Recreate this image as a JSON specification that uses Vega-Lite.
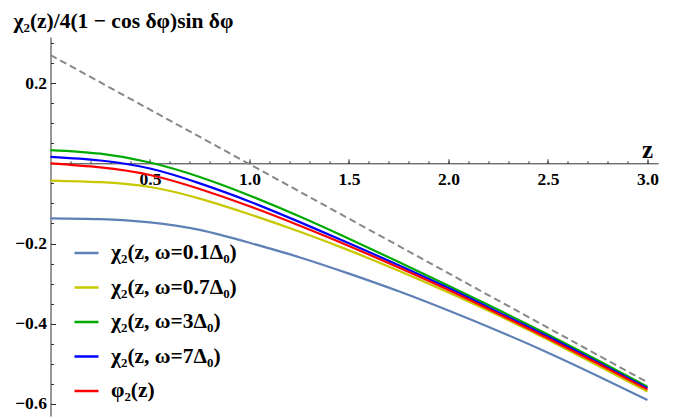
{
  "$schema": "https://vega.github.io/schema/vega-lite/v6.json",
  "width": 607.5,
  "height": 379,
  "autosize": {"type": "none"},
  "padding": {"left": 50.5, "top": 37, "right": 15, "bottom": 2},
  "background": "white",
  "config": {
    "view": {"stroke": null},
    "font": "Liberation Serif, Times New Roman, serif",
    "axis": {
      "grid": false,
      "domainColor": "#333333",
      "domainWidth": 1,
      "tickColor": "#333333",
      "labelFont": "Liberation Serif, Times New Roman, serif",
      "labelFontWeight": "bold",
      "labelFontSize": 17.5,
      "labelColor": "#000000",
      "labelOverlap": false,
      "labelFlush": false,
      "titleFont": "Liberation Serif, Times New Roman, serif",
      "titleFontWeight": "bold",
      "titleColor": "#000000"
    },
    "legend": {
      "labelFont": "Liberation Serif, Times New Roman, serif"
    }
  },
  "datasets": {
    "dashed": [
      {"z": 0, "v": 0.27},
      {"z": 3, "v": -0.546}
    ],
    "curves": [
      {"s": "χ₂(z, ω=0.1Δ₀)", "z": 0, "v": -0.137},
      {"s": "χ₂(z, ω=0.1Δ₀)", "z": 0.25, "v": -0.139},
      {"s": "χ₂(z, ω=0.1Δ₀)", "z": 0.5, "v": -0.147},
      {"s": "χ₂(z, ω=0.1Δ₀)", "z": 0.75, "v": -0.166},
      {"s": "χ₂(z, ω=0.1Δ₀)", "z": 1.0, "v": -0.198},
      {"s": "χ₂(z, ω=0.1Δ₀)", "z": 1.25, "v": -0.234},
      {"s": "χ₂(z, ω=0.1Δ₀)", "z": 1.5, "v": -0.275},
      {"s": "χ₂(z, ω=0.1Δ₀)", "z": 1.75, "v": -0.319},
      {"s": "χ₂(z, ω=0.1Δ₀)", "z": 2.0, "v": -0.367},
      {"s": "χ₂(z, ω=0.1Δ₀)", "z": 2.25, "v": -0.418},
      {"s": "χ₂(z, ω=0.1Δ₀)", "z": 2.5, "v": -0.472},
      {"s": "χ₂(z, ω=0.1Δ₀)", "z": 2.75, "v": -0.530},
      {"s": "χ₂(z, ω=0.1Δ₀)", "z": 3.0, "v": -0.590},
      {"s": "χ₂(z, ω=0.7Δ₀)", "z": 0, "v": -0.043},
      {"s": "χ₂(z, ω=0.7Δ₀)", "z": 0.25, "v": -0.047},
      {"s": "χ₂(z, ω=0.7Δ₀)", "z": 0.5, "v": -0.059},
      {"s": "χ₂(z, ω=0.7Δ₀)", "z": 0.75, "v": -0.088},
      {"s": "χ₂(z, ω=0.7Δ₀)", "z": 1.0, "v": -0.127},
      {"s": "χ₂(z, ω=0.7Δ₀)", "z": 1.25, "v": -0.170},
      {"s": "χ₂(z, ω=0.7Δ₀)", "z": 1.5, "v": -0.217},
      {"s": "χ₂(z, ω=0.7Δ₀)", "z": 1.75, "v": -0.268},
      {"s": "χ₂(z, ω=0.7Δ₀)", "z": 2.0, "v": -0.322},
      {"s": "χ₂(z, ω=0.7Δ₀)", "z": 2.25, "v": -0.379},
      {"s": "χ₂(z, ω=0.7Δ₀)", "z": 2.5, "v": -0.440},
      {"s": "χ₂(z, ω=0.7Δ₀)", "z": 2.75, "v": -0.504},
      {"s": "χ₂(z, ω=0.7Δ₀)", "z": 3.0, "v": -0.569},
      {"s": "χ₂(z, ω=3Δ₀)", "z": 0, "v": 0.033},
      {"s": "χ₂(z, ω=3Δ₀)", "z": 0.25, "v": 0.024},
      {"s": "χ₂(z, ω=3Δ₀)", "z": 0.5, "v": 0.002},
      {"s": "χ₂(z, ω=3Δ₀)", "z": 0.75, "v": -0.034},
      {"s": "χ₂(z, ω=3Δ₀)", "z": 1.0, "v": -0.080},
      {"s": "χ₂(z, ω=3Δ₀)", "z": 1.25, "v": -0.132},
      {"s": "χ₂(z, ω=3Δ₀)", "z": 1.5, "v": -0.188},
      {"s": "χ₂(z, ω=3Δ₀)", "z": 1.75, "v": -0.246},
      {"s": "χ₂(z, ω=3Δ₀)", "z": 2.0, "v": -0.305},
      {"s": "χ₂(z, ω=3Δ₀)", "z": 2.25, "v": -0.365},
      {"s": "χ₂(z, ω=3Δ₀)", "z": 2.5, "v": -0.427},
      {"s": "χ₂(z, ω=3Δ₀)", "z": 2.75, "v": -0.491},
      {"s": "χ₂(z, ω=3Δ₀)", "z": 3.0, "v": -0.557},
      {"s": "χ₂(z, ω=7Δ₀)", "z": 0, "v": 0.016},
      {"s": "χ₂(z, ω=7Δ₀)", "z": 0.25, "v": 0.007},
      {"s": "χ₂(z, ω=7Δ₀)", "z": 0.5, "v": -0.013},
      {"s": "χ₂(z, ω=7Δ₀)", "z": 0.75, "v": -0.050},
      {"s": "χ₂(z, ω=7Δ₀)", "z": 1.0, "v": -0.095},
      {"s": "χ₂(z, ω=7Δ₀)", "z": 1.25, "v": -0.146},
      {"s": "χ₂(z, ω=7Δ₀)", "z": 1.5, "v": -0.199},
      {"s": "χ₂(z, ω=7Δ₀)", "z": 1.75, "v": -0.254},
      {"s": "χ₂(z, ω=7Δ₀)", "z": 2.0, "v": -0.311},
      {"s": "χ₂(z, ω=7Δ₀)", "z": 2.25, "v": -0.371},
      {"s": "χ₂(z, ω=7Δ₀)", "z": 2.5, "v": -0.432},
      {"s": "χ₂(z, ω=7Δ₀)", "z": 2.75, "v": -0.496},
      {"s": "χ₂(z, ω=7Δ₀)", "z": 3.0, "v": -0.561},
      {"s": "φ₂(z)", "z": 0, "v": 0.0},
      {"s": "φ₂(z)", "z": 0.25, "v": -0.010},
      {"s": "φ₂(z)", "z": 0.5, "v": -0.029},
      {"s": "φ₂(z)", "z": 0.75, "v": -0.064},
      {"s": "φ₂(z)", "z": 1.0, "v": -0.107},
      {"s": "φ₂(z)", "z": 1.25, "v": -0.155},
      {"s": "φ₂(z)", "z": 1.5, "v": -0.206},
      {"s": "φ₂(z)", "z": 1.75, "v": -0.260},
      {"s": "φ₂(z)", "z": 2.0, "v": -0.316},
      {"s": "φ₂(z)", "z": 2.25, "v": -0.375},
      {"s": "φ₂(z)", "z": 2.5, "v": -0.436},
      {"s": "φ₂(z)", "z": 2.75, "v": -0.499},
      {"s": "φ₂(z)", "z": 3.0, "v": -0.564}
    ]
  },
  "layer": [
    {
      "data": {"name": "dashed"},
      "mark": {"type": "line", "color": "#888888", "strokeWidth": 2, "strokeDash": [7, 4]},
      "encoding": {
        "x": {
          "field": "z", "type": "quantitative",
          "scale": {"domain": [0, 3.053], "nice": false, "zero": false},
          "axis": {
            "orient": "bottom", "offset": -252.7,
            "values": [0.1,0.2,0.3,0.4,0.5,0.6,0.7,0.8,0.9,1.0,1.1,1.2,1.3,1.4,1.5,1.6,1.7,1.8,1.9,2.0,2.1,2.2,2.3,2.4,2.5,2.6,2.7,2.8,2.9,3.0],
            "tickSize": -2.5, "labels": false, "domain": false, "title": null
          }
        },
        "y": {
          "field": "v", "type": "quantitative",
          "scale": {"domain": [-0.63, 0.315], "nice": false, "zero": false},
          "axis": {
            "orient": "left",
            "values": [-0.6,-0.55,-0.5,-0.45,-0.4,-0.35,-0.3,-0.25,-0.2,-0.15,-0.1,-0.05,0.05,0.1,0.15,0.2,0.25,0.3],
            "tickSize": -3, "labels": false, "domain": false, "title": null
          }
        }
      }
    },
    {
      "data": {"name": "curves"},
      "mark": {"type": "line", "strokeWidth": 2.2, "interpolate": "natural"},
      "encoding": {
        "x": {
          "field": "z", "type": "quantitative",
          "scale": {"domain": [0, 3.053], "nice": false, "zero": false},
          "axis": {
            "orient": "bottom", "offset": -252.7,
            "values": [0.5, 1.0, 1.5, 2.0, 2.5, 3.0], "format": ".1f",
            "tickSize": -4.5, "labelPadding": 11.5, "labelBaseline": "top",
            "title": "z", "titleFontSize": 25, "titleAngle": 0,
            "titleX": 596.5, "titleY": -6.3, "titleAlign": "center", "titleBaseline": "alphabetic"
          }
        },
        "y": {
          "field": "v", "type": "quantitative",
          "scale": {"domain": [-0.63, 0.315], "nice": false, "zero": false},
          "axis": {
            "orient": "left",
            "values": [-0.6, -0.4, -0.2, 0.2], "format": ".1f",
            "tickSize": -5, "labelPadding": 9,
            "title": "χ₂(z)/4(1 − cos δφ)sin δφ", "titleFontSize": 21.5, "titleAngle": 0,
            "titleX": -37.5, "titleY": -10, "titleAlign": "left", "titleBaseline": "alphabetic"
          }
        },
        "color": {
          "field": "s", "type": "nominal",
          "scale": {
            "domain": ["χ₂(z, ω=0.1Δ₀)", "χ₂(z, ω=0.7Δ₀)", "χ₂(z, ω=3Δ₀)", "χ₂(z, ω=7Δ₀)", "φ₂(z)"],
            "range": ["#5E81B5", "#C8C800", "#00AA00", "#0000FF", "#FF0000"]
          },
          "legend": {
            "title": null, "orient": "none", "legendX": 22.5, "legendY": 204,
            "padding": 0, "symbolType": "stroke", "symbolSize": 576, "symbolStrokeWidth": 2.5,
            "labelFont": "Liberation Serif, Times New Roman, serif", "labelFontWeight": "bold", "labelFontSize": 21.5,
            "labelColor": "#000000", "labelOffset": 11, "clipHeight": 24, "rowPadding": 10.5,
            "labelLimit": 300
          }
        }
      }
    }
  ],
  "resolve": {"axis": {"x": "independent", "y": "independent"}}
}
